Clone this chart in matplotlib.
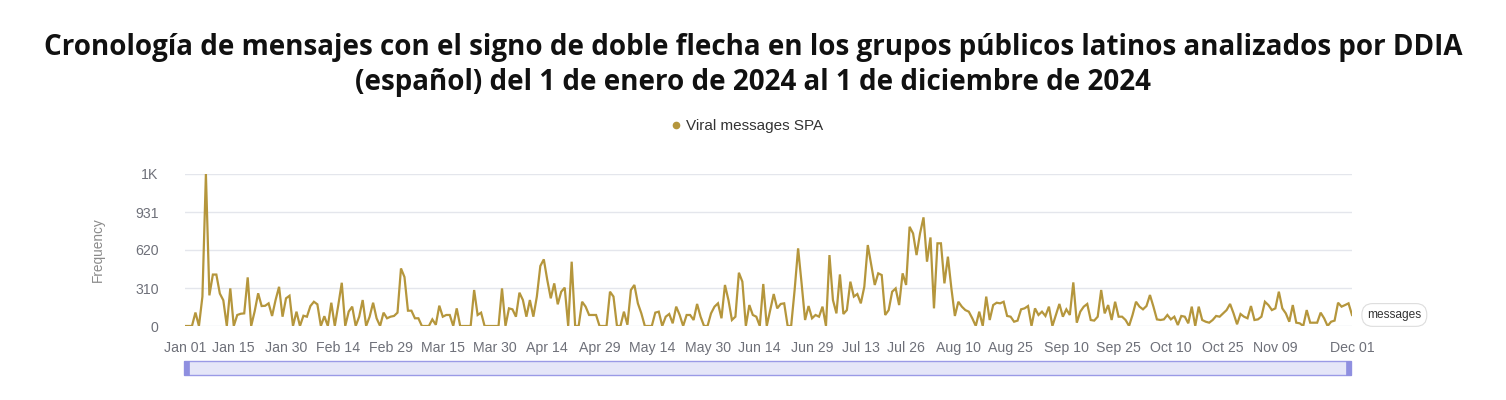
import matplotlib
matplotlib.use("Agg")
import matplotlib.pyplot as plt
from matplotlib.lines import Line2D
from matplotlib.patches import Rectangle
import pandas as pd

title = ("Cronología de mensajes con el signo de doble flecha en los grupos públicos latinos analizados por DDIA\n"
         "(español) del 1 de enero de 2024 al 1 de diciembre de 2024")
series_name = "Viral messages SPA"
end_label = "messages"
y_label = "Frequency"

dates = pd.date_range("2024-01-01", "2024-12-01", freq="D")

values = [
    0, 0, 0, 110, 0, 240, 1241, 250, 420, 420,
    265, 210, 0, 307, 0, 90, 100, 103, 397, 0,
    120, 267, 163, 165, 185, 82, 212, 320, 76, 226,
    247, 0, 117, 0, 84, 76, 163, 198, 177, 0,
    80, 0, 190, 0, 170, 353, 0, 118, 158, 0,
    76, 212, 0, 76, 190, 63, 0, 109, 63, 76,
    82, 109, 470, 400, 125, 125, 63, 63, 0, 0,
    0, 54, 10, 166, 76, 90, 90, 0, 144, 0,
    0, 0, 0, 294, 90, 109, 0, 0, 0, 0,
    0, 307, 0, 144, 136, 76, 272, 212, 76, 212,
    76, 240, 490, 544, 375, 226, 348, 177, 280, 313,
    0, 525, 0, 0, 198, 158, 90, 90, 90, 0,
    0, 0, 280, 240, 0, 0, 117, 10, 294, 335,
    185, 103, 0, 0, 0, 109, 117, 0, 76, 98,
    22, 158, 90, 0, 90, 90, 49, 180, 76, 0,
    0, 103, 158, 185, 63, 335, 212, 49, 76, 435,
    362, 0, 171, 90, 76, 0, 343, 0, 130, 261,
    144, 180, 185, 0, 0, 294, 634, 348, 49, 163,
    63, 90, 76, 158, 0, 579, 212, 103, 421, 98,
    130, 362, 240, 261, 185, 320, 661, 498, 335, 430,
    416, 90, 130, 280, 307, 171, 430, 335, 810, 756,
    579, 756, 887, 525, 723, 144, 675, 675, 348, 566,
    307, 82, 198, 158, 130, 117, 63, 0, 117, 0,
    240, 49, 171, 190, 185, 198, 82, 76, 35, 44,
    136, 144, 163, 0, 144, 90, 117, 82, 158, 0,
    90, 180, 76, 136, 90, 356, 27, 117, 158, 180,
    49, 44, 76, 294, 103, 171, 49, 198, 76, 76,
    49, 0, 90, 198, 158, 136, 163, 253, 158, 54,
    49, 54, 90, 54, 76, 8, 82, 76, 22, 158,
    0, 158, 49, 35, 27, 49, 82, 76, 103, 130,
    180, 103, 14, 98, 76, 63, 163, 49, 54, 76,
    198, 171, 130, 144, 280, 144, 103, 35, 171, 27,
    22, 0, 130, 27, 27, 27, 109, 63, 0, 35,
    44, 190, 158, 171, 185, 90,
]

y_ticks = [0, 310.25, 620.5, 930.75, 1241]
y_tick_labels = ["0", "310", "620", "931", "1K"]

x_tick_dates = ["2024-01-01", "2024-01-15", "2024-01-30", "2024-02-14", "2024-02-29",
                "2024-03-15", "2024-03-30", "2024-04-14", "2024-04-29", "2024-05-14",
                "2024-05-30", "2024-06-14", "2024-06-29", "2024-07-13", "2024-07-26",
                "2024-08-10", "2024-08-25", "2024-09-10", "2024-09-25", "2024-10-10",
                "2024-10-25", "2024-11-09", "2024-12-01"]
x_tick_labels = ["Jan 01", "Jan 15", "Jan 30", "Feb 14", "Feb 29", "Mar 15", "Mar 30",
                 "Apr 14", "Apr 29", "May 14", "May 30", "Jun 14", "Jun 29", "Jul 13",
                 "Jul 26", "Aug 10", "Aug 25", "Sep 10", "Sep 25", "Oct 10", "Oct 25",
                 "Nov 09", "Dec 01"]

gold = "#b5963c"
gray_text = "#6e7079"
grid_col = "#e4e6ec"

plt.rcParams["font.family"] = ["Liberation Sans", "DejaVu Sans"]

W, H = 1506, 400
fig = plt.figure(figsize=(W / 100, H / 100), dpi=100)
fig.patch.set_facecolor("white")

ax = fig.add_axes([185 / W, 1 - 326 / H, (1352 - 185) / W, (326 - 174) / H])
ax.plot(dates, values, color=gold, linewidth=1.6, solid_joinstyle="miter", zorder=3)
ax.set_xlim(dates[0], dates[-1])
ax.set_ylim(0, y_ticks[-1])
ax.set_yticks(y_ticks)
ax.set_yticklabels(y_tick_labels)
ax.set_xticks(pd.to_datetime(x_tick_dates))
ax.set_xticklabels(x_tick_labels)
ax.tick_params(axis="both", length=0, labelsize=10.2, colors=gray_text)
ax.tick_params(axis="y", pad=19)
ax.tick_params(axis="x", pad=11)
for s in ax.spines.values():
    s.set_visible(False)
ax.grid(axis="y", color=grid_col, linewidth=1)
ax.set_axisbelow(True)
ax.set_ylabel(y_label, color="#8a8a8a", fontsize=9.8)
ax.yaxis.set_label_coords((105 - 185) / (1352 - 185), 0.5)

# end label
ax.annotate(end_label, xy=(dates[-1], values[-1]), xytext=(11, 0),
            textcoords="offset points", ha="left", va="center", fontsize=8.6,
            color="#333333",
            bbox=dict(boxstyle="round,pad=0.45,rounding_size=0.9", fc="white",
                      ec="#dddddd", lw=0.8))

# legend
handle = Line2D([], [], marker="o", linestyle="none", color=gold, markersize=4.5)
fig.legend([handle], [series_name], loc="center", bbox_to_anchor=(745 / W, 1 - 126 / H),
           frameon=False, fontsize=11, handletextpad=0.1, handlelength=1.2,
           labelcolor="#333333")

# title
fig.text(0.5, 1 - 65 / H, title, ha="center", va="center", fontsize=20,
         fontweight="bold", family=["Open Sans", "DejaVu Sans"], linespacing=1.3,
         color="#111111")

# data zoom slider
fig.patches.append(Rectangle((184 / W, 1 - 375 / H), (1351 - 184) / W, 14 / H,
                             transform=fig.transFigure, fc="#e5e6f8", ec="#9a9ae6", lw=1))
for xh in (184, 1346):
    fig.patches.append(Rectangle((xh / W, 1 - 375 / H), 5 / W, 14 / H,
                                 transform=fig.transFigure, fc="#8f8fe0", ec="#8f8fe0", lw=0.5))

fig.savefig("out.png", dpi=100, facecolor="white")
